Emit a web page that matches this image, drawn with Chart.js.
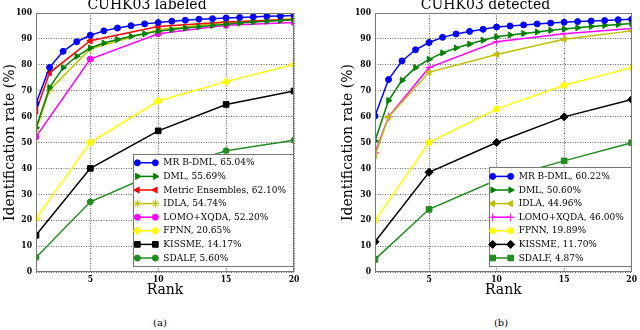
<!DOCTYPE html>
<html>
<head>
<meta charset="utf-8">
<script src="https://cdn.jsdelivr.net/npm/chart.js@4/dist/chart.umd.min.js"></script>
<style>
  body { margin: 0; background: #fff; }
  #page { position: relative; width: 640px; height: 330px; overflow: hidden; background: #fff; }
  .panel { position: absolute; top: -5px; height: 310px; }
  .caption { position: absolute; top: 317px; font: 10px "DejaVu Serif", serif; color: #000; transform: translateX(-50%); }
</style>
</head>
<body>
<div id="page">
  <div class="panel" style="left:0;width:320px"><canvas id="labeled"></canvas></div>
  <div class="panel" style="left:338px;width:302px"><canvas id="detected"></canvas></div>
  <div class="caption" style="left:160px">(a)</div>
  <div class="caption" style="left:501px">(b)</div>
</div>
<script>
// ranks on the x axis
const ranksAll = [1, 2, 3, 4, 5, 6, 7, 8, 9, 10, 11, 12, 13, 14, 15, 16, 17, 18, 19, 20];
const ranksWithSecond = [1, 2, 5, 10, 15, 20];
const ranksSparse = [1, 5, 10, 15, 20];
const rankTicks = [5, 10, 15, 20];

// CUHK03 labeled
const labeledNames = ['MR B-DML, 65.04%', 'DML, 55.69%', 'Metric Ensembles, 62.10%', 'IDLA, 54.74%',
    'LOMO+XQDA, 52.20%', 'FPNN, 20.65%', 'KISSME, 14.17%', 'SDALF, 5.60%'];
const labeledMrbDml = [65.04, 79.0, 85.2, 88.9, 91.4, 93.1, 94.2, 95.1, 95.8, 96.3, 96.8, 97.2, 97.6, 97.8, 98.1, 98.3, 98.5, 98.7, 98.8, 99.0];
const labeledDml = [55.69, 71.2, 78.9, 83.3, 86.5, 88.4, 89.8, 91.0, 92.0, 93.0, 93.6, 94.2, 94.7, 95.2, 95.7, 96.1, 96.5, 96.8, 97.1, 97.4];
const labeledEnsembles = [62.10, 76.9, 89.3, 94.8, 96.5, 97.5];
const labeledIdla = [54.74, 70.3, 86.2, 93.5, 96.3, 97.8];
const labeledLomo = [52.20, 82.2, 92.0, 95.3, 96.3];
const labeledFpnn = [20.65, 50.0, 66.0, 73.5, 80.1];
const labeledKissme = [14.17, 40.0, 54.5, 64.7, 69.9];
const labeledSdalf = [5.60, 27.1, 38.5, 46.8, 50.9];

// CUHK03 detected
const detectedNames = ['MR B-DML, 60.22%', 'DML, 50.60%', 'IDLA, 44.96%', 'LOMO+XQDA, 46.00%',
    'FPNN, 19.89%', 'KISSME, 11.70%', 'SDALF, 4.87%'];
const detectedMrbDml = [60.22, 74.3, 81.5, 85.8, 88.6, 90.6, 91.9, 92.9, 93.7, 94.6, 95.0, 95.4, 95.8, 96.1, 96.4, 96.7, 96.9, 97.1, 97.4, 97.6];
const detectedDml = [50.60, 66.2, 74.0, 78.9, 82.1, 84.6, 86.5, 88.0, 89.5, 90.8, 91.5, 92.1, 92.7, 93.3, 93.8, 94.3, 94.8, 95.2, 95.6, 95.9];
const detectedIdla = [44.96, 59.8, 77.1, 84.0, 89.9, 93.1];
const detectedLomo = [46.00, 59.9, 78.9, 88.9, 92.0, 94.0];
const detectedFpnn = [19.89, 50.0, 62.9, 72.1, 78.9];
const detectedKissme = [11.70, 38.5, 50.0, 59.9, 66.6];
const detectedSdalf = [4.87, 24.2, 35.5, 42.9, 49.9];

const SERIF = '"DejaVu Serif Condensed", "DejaVu Serif", serif';

function series(label, ranks, values, color, style, rotation, radius) {
    return {
        label: label,
        data: ranks.map((r, i) => ({ x: r, y: values[i] })),
        borderColor: color,
        backgroundColor: color,
        pointBackgroundColor: color,
        pointBorderColor: color,
        borderWidth: 1.5,
        pointStyle: style,
        rotation: rotation || 0,
        pointRadius: radius || 3,
        pointBorderWidth: 1,
        clip: 0,
        tension: 0
    };
}

// legend drawn like matplotlib: a line with a marker on each end
const lineLegend = {
    id: 'lineLegend',
    afterDatasetsDraw(chart) {
        const { ctx, chartArea } = chart;
        const sets = chart.data.datasets;
        ctx.save();
        ctx.font = '10px ' + SERIF;
        const rowH = 13.6;
        const textW = Math.max(...sets.map(ds => ctx.measureText(ds.label).width));
        const w = 30 + textW + 8;
        const h = (sets.length - 1) * rowH + 18;
        const right = chartArea.right, bottom = chartArea.bottom - 5;
        const left = right - w, top = bottom - h;
        ctx.fillStyle = '#fff';
        ctx.fillRect(left, top, w, h);
        ctx.strokeStyle = '#777';
        ctx.lineWidth = 1;
        ctx.strokeRect(Math.round(left) + 0.5, Math.round(top) + 0.5, Math.round(w) - 1, Math.round(h) - 1);
        sets.forEach((ds, i) => {
            const y = top + 9 + i * rowH;
            ctx.strokeStyle = ds.borderColor;
            ctx.lineWidth = 1.5;
            ctx.beginPath();
            ctx.moveTo(left + 4, y);
            ctx.lineTo(left + 22, y);
            ctx.stroke();
            ctx.fillStyle = ds.pointBackgroundColor;
            ctx.lineWidth = 1;
            [left + 4, left + 22].forEach(x => Chart.helpers.drawPoint(ctx, {
                pointStyle: ds.pointStyle, rotation: ds.rotation, radius: ds.pointRadius, borderWidth: 1
            }, x, y));
            ctx.fillStyle = '#000';
            ctx.textBaseline = 'middle';
            ctx.textAlign = 'left';
            ctx.fillText(ds.label, left + 30, y);
        });
        ctx.restore();
    }
};

// gray frame around the plot area
const frame = {
    id: 'frame',
    afterDraw(chart) {
        const { ctx, chartArea: a } = chart;
        ctx.save();
        ctx.strokeStyle = '#777';
        ctx.lineWidth = 1;
        ctx.strokeRect(Math.round(a.left) + 0.5, Math.round(a.top) + 0.5,
            Math.round(a.right - a.left) - 1, Math.round(a.bottom - a.top) - 1);
        ctx.restore();
    }
};

function makeChart(id, title, datasets, yWidth, padRight) {
    const ctx = document.getElementById(id).getContext('2d');
    return new Chart(ctx, {
        type: 'line',
        data: { datasets: datasets },
        plugins: [lineLegend, frame],
        options: {
            responsive: true,
            maintainAspectRatio: false,
            animation: false,
            layout: { padding: { left: 0, right: padRight, top: 0, bottom: 0 } },
            plugins: {
                legend: { display: false },
                tooltip: { enabled: false },
                title: {
                    display: true,
                    text: title,
                    color: '#000',
                    font: { family: '"DejaVu Serif", serif', size: 14, weight: 'normal', lineHeight: 16 / 14 },
                    padding: { top: 2, bottom: 0 }
                }
            },
            scales: {
                x: {
                    type: 'linear',
                    min: 1,
                    max: 20,
                    afterBuildTicks(scale) { scale.ticks = rankTicks.map(v => ({ value: v })); },
                    afterFit(scale) { scale.height = 33; },
                    grid: { color: 'rgba(0,0,0,0.6)', drawTicks: false },
                    border: { display: false, dash: [1, 1.5] },
                    ticks: { color: '#000', padding: 3, maxRotation: 0, font: { family: SERIF, size: 8.5, weight: 'bold' } },
                    title: {
                        display: true, text: 'Rank', color: '#000',
                        font: { family: '"DejaVu Serif", serif', size: 14 },
                        padding: { top: 0, bottom: 6 }
                    }
                },
                y: {
                    min: 0,
                    max: 100,
                    afterFit(scale) { scale.width = yWidth; },
                    grid: { color: 'rgba(0,0,0,0.6)', drawTicks: false },
                    border: { display: false, dash: [1, 1.5] },
                    ticks: { stepSize: 10, color: '#000', padding: 4, font: { family: SERIF, size: 8.5, weight: 'bold' } },
                    title: {
                        display: true, text: 'Identification rate (%)', color: '#000',
                        font: { family: '"DejaVu Serif", serif', size: 14 },
                        padding: { top: 2, bottom: 0 }
                    }
                }
            }
        }
    });
}

makeChart('labeled', 'CUHK03 labeled', [
    series(labeledNames[0], ranksAll, labeledMrbDml, '#0000ff', 'circle', 0, 3),
    series(labeledNames[1], ranksAll, labeledDml, '#008000', 'triangle', 90, 3.5),
    series(labeledNames[2], ranksWithSecond, labeledEnsembles, '#ff0000', 'triangle', 270, 3.5),
    series(labeledNames[3], ranksWithSecond, labeledIdla, '#bfbf00', 'star', 0, 4),
    series(labeledNames[4], ranksSparse, labeledLomo, '#ff00ff', 'circle', 0, 3),
    series(labeledNames[5], ranksSparse, labeledFpnn, '#ffff00', 'rectRot', 0, 4),
    series(labeledNames[6], ranksSparse, labeledKissme, '#000000', 'rect', 0, 4),
    series(labeledNames[7], ranksSparse, labeledSdalf, '#228b22', 'circle', 0, 3)
], 36, 26);

makeChart('detected', 'CUHK03 detected', [
    series(detectedNames[0], ranksAll, detectedMrbDml, '#0000ff', 'circle', 0, 3),
    series(detectedNames[1], ranksAll, detectedDml, '#008000', 'triangle', 90, 3.5),
    series(detectedNames[2], ranksWithSecond, detectedIdla, '#bfbf00', 'triangle', 270, 3.5),
    series(detectedNames[3], ranksWithSecond, detectedLomo, '#ff00ff', 'cross', 0, 4),
    series(detectedNames[4], ranksSparse, detectedFpnn, '#ffff00', 'circle', 0, 3),
    series(detectedNames[5], ranksSparse, detectedKissme, '#000000', 'rectRot', 0, 4),
    series(detectedNames[6], ranksSparse, detectedSdalf, '#228b22', 'rect', 0, 4)
], 37, 7);
</script>
</body>
</html>
